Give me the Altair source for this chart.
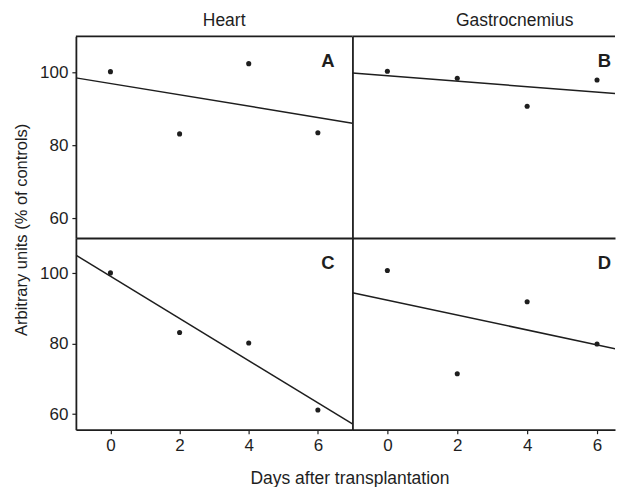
import altair as alt
import pandas as pd

# ---- data ----
days = [0, 2, 4, 6]
heart_A = [100.3, 83.2, 102.5, 83.5]
gastro_B = [100.4, 98.5, 90.8, 98.0]
heart_C = [100.1, 83.2, 80.2, 61.2]
gastro_D = [100.8, 71.5, 91.9, 79.9]
column_titles = ["Heart", "Gastrocnemius"]
panel_letters = ["A", "B", "C", "D"]
x_ticks = [0, 2, 4, 6]
y_ticks = [60, 80, 100]
x_title = "Days after transplantation"
y_title = "Arbitrary units (% of controls)"

FONT = "Liberation Sans"
INK = "#1e1e1e"

W_LEFT, W_RIGHT = 277, 263
H_TOP, H_BOTTOM = 202, 192
XDOM_LEFT = [-1, 7]
XDOM_RIGHT = [-1, -1 + W_RIGHT / 35.0]
YDOM_TOP = [54.6, 110]
YDOM_BOTTOM = [55.6, 110]


def panel(values, letter, width, height, xdom, ydom, left_col, bottom_row,
          col_title=None, title_dx=0, letter_x=None):
    df = pd.DataFrame({"day": days, "value": values})
    base = alt.Chart(df)

    x_axis_kw = dict(values=x_ticks, grid=False, domain=True)
    if bottom_row:
        x_axis_kw.update(labels=True, ticks=True, tickSize=4, labelPadding=4)
        if left_col:
            x_axis_kw.update(title=x_title, titleX=274, titlePadding=15.5,
                             titleFontSize=17.5)
        else:
            x_axis_kw.update(title=None)
    else:
        x_axis_kw.update(labels=False, ticks=False, title=None)

    y_axis_kw = dict(values=y_ticks, grid=False, domain=True)
    if left_col:
        y_axis_kw.update(labels=True, ticks=True, tickSize=4, labelPadding=4)
        if not bottom_row:
            y_axis_kw.update(title=y_title, titleY=193.3, titlePadding=10,
                             titleFontSize=16.5)
        else:
            y_axis_kw.update(title=None)
    else:
        y_axis_kw.update(labels=False, ticks=False, title=None)

    x = alt.X("day:Q", scale=alt.Scale(domain=xdom, nice=False, zero=False),
              axis=alt.Axis(**x_axis_kw))
    y = alt.Y("value:Q", scale=alt.Scale(domain=ydom, nice=False, zero=False),
              axis=alt.Axis(**y_axis_kw))

    pts = base.mark_circle(size=26, color=INK, opacity=1).encode(x=x, y=y)
    fit = base.transform_regression(
        "day", "value", extent=[-1, 7]
    ).mark_line(color=INK, strokeWidth=1.5, clip=True).encode(
        x=alt.X("day:Q"), y=alt.Y("value:Q")
    )
    lab = alt.Chart(pd.DataFrame({"letter": [letter]})).mark_text(
        align="right", baseline="alphabetic", font=FONT, fontSize=18.5,
        fontWeight="bold", color=INK
    ).encode(text="letter:N", x=alt.value(letter_x), y=alt.value(30.8))

    layers = [fit, pts, lab]
    if not bottom_row:
        top_border = alt.Chart(pd.DataFrame({"b": [0]})).mark_rule(
            color=INK, strokeWidth=1.8
        ).encode(x=alt.value(0), x2=alt.value(width), y=alt.value(0))
        layers.append(top_border)

    props = dict(width=width, height=height)
    if col_title:
        props["title"] = alt.TitleParams(
            col_title, font=FONT, fontSize=17.5, fontWeight="normal",
            color=INK, dx=title_dx, offset=6, anchor="middle"
        )
    return alt.layer(*layers).properties(**props)


pA = panel(heart_A, panel_letters[0], W_LEFT, H_TOP, XDOM_LEFT, YDOM_TOP,
           True, False, column_titles[0], 10, letter_x=259)
pB = panel(gastro_B, panel_letters[1], W_RIGHT, H_TOP, XDOM_RIGHT, YDOM_TOP,
           False, False, column_titles[1], 31, letter_x=259)
pC = panel(heart_C, panel_letters[2], W_LEFT, H_BOTTOM, XDOM_LEFT, YDOM_BOTTOM,
           True, True, letter_x=259)
pD = panel(gastro_D, panel_letters[3], W_RIGHT, H_BOTTOM, XDOM_RIGHT, YDOM_BOTTOM,
           False, True, letter_x=259)

chart = alt.concat(pA, pB, pC, pD, columns=2, spacing=0, bounds="flush").properties(
    padding={"left": 5, "top": 3, "right": 0, "bottom": 0}
).configure_view(stroke=None).configure_axis(
    labelFont=FONT, labelFontSize=17, labelColor=INK,
    titleFont=FONT, titleFontWeight="normal", titleColor=INK,
    domainColor=INK, domainWidth=1.8, tickColor=INK, tickWidth=1.2,
).configure_concat(spacing=0)

chart.save("out.html", embed_options={"renderer": "svg", "actions": False})
